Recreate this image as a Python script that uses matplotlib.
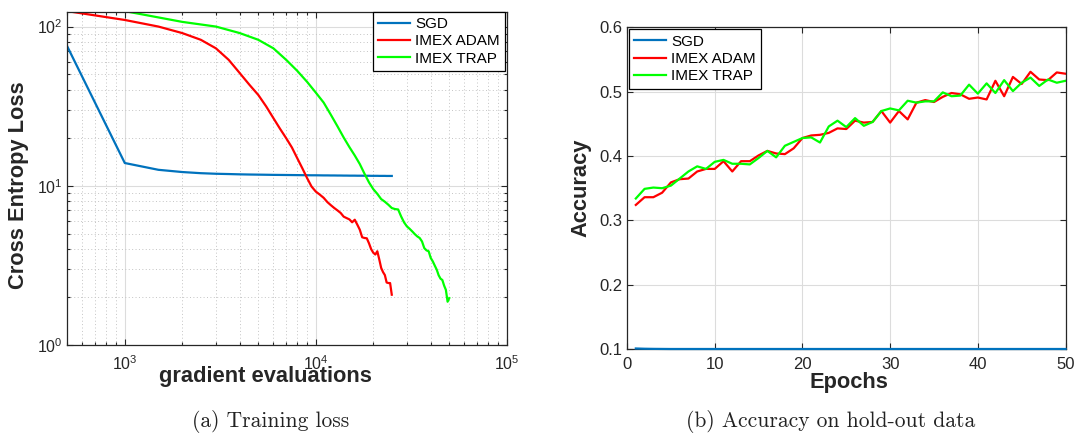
import numpy as np
import matplotlib
matplotlib.use("Agg")
import matplotlib.pyplot as plt

plt.rcParams['font.family'] = ['Liberation Sans', 'DejaVu Sans']
plt.rcParams['mathtext.fontset'] = 'custom'
plt.rcParams['mathtext.rm'] = 'Liberation Sans'
plt.rcParams['mathtext.it'] = 'Liberation Sans:italic'
plt.rcParams['mathtext.bf'] = 'Liberation Sans:bold'

# ---------------- data ----------------
series_names = ["SGD", "IMEX ADAM", "IMEX TRAP"]

evals_500 = np.arange(500, 25001, 500)      # gradient evaluations (SGD, IMEX ADAM)
evals_1000 = np.arange(1000, 50001, 1000)   # gradient evaluations (IMEX TRAP)

sgd_loss = [75.0, 13.9, 12.6, 12.2, 12.0, 11.9, 11.85, 11.8, 11.77, 11.75,
            11.73, 11.71, 11.7, 11.69, 11.68, 11.67, 11.66, 11.65, 11.64, 11.64,
            11.63, 11.62, 11.62, 11.61, 11.61, 11.6, 11.6, 11.59, 11.59, 11.58,
            11.58, 11.58, 11.57, 11.57, 11.57, 11.56, 11.56, 11.56, 11.55, 11.55,
            11.55, 11.55, 11.54, 11.54, 11.54, 11.54, 11.53, 11.53, 11.53, 11.53]

adam_loss = [125, 110, 100, 91, 82.6, 73, 61.8, 51, 43, 37.2,
             31.5, 26.6, 22.8, 19.9, 17.4, 14.9, 12.9, 11.2, 9.9, 9.2,
             8.8, 8.4, 7.9, 7.55, 7.25, 7.0, 6.75, 6.4, 6.27, 6.15,
             5.9, 6.12, 5.7, 5.3, 4.75, 4.7, 4.68, 4.35, 4.0, 3.8,
             3.7, 3.88, 3.45, 3.05, 2.87, 2.75, 2.47, 2.45, 2.45, 2.07]

trap_loss = [125, 107, 100, 91, 82.6, 73, 61.8, 52.7, 45, 38.5,
             33.3, 27.9, 23.6, 20.1, 17.5, 15.5, 13.7, 11.9, 10.5, 9.53,
             8.9, 8.25, 7.94, 7.6, 7.25, 7.14, 7.1, 6.41, 5.89, 5.56,
             5.37, 5.17, 4.97, 4.81, 4.70, 4.47, 4.06, 3.93, 3.88, 3.52,
             3.35, 3.15, 2.97, 2.74, 2.61, 2.56, 2.36, 2.22, 1.87, 1.97]

epochs = np.arange(1, 51)

sgd_acc = [0.1008, 0.1004, 0.1002, 0.1001, 0.1, 0.1, 0.1, 0.1, 0.1, 0.1,
           0.1, 0.1, 0.1, 0.1, 0.1, 0.1, 0.1, 0.1, 0.1, 0.1,
           0.1, 0.1, 0.1, 0.1, 0.1, 0.1, 0.1, 0.1, 0.1, 0.1,
           0.1, 0.1, 0.1, 0.1, 0.1, 0.1, 0.1, 0.1, 0.1, 0.1,
           0.1, 0.1, 0.1, 0.1, 0.1, 0.1, 0.1, 0.1, 0.1, 0.1]

adam_acc = [0.324, 0.336, 0.336, 0.343, 0.359, 0.364, 0.365, 0.376, 0.380, 0.380,
            0.392, 0.376, 0.392, 0.392, 0.401, 0.408, 0.404, 0.403, 0.412, 0.428,
            0.432, 0.433, 0.436, 0.443, 0.442, 0.455, 0.452, 0.453, 0.470, 0.452,
            0.470, 0.457, 0.483, 0.487, 0.484, 0.492, 0.498, 0.496, 0.489, 0.491,
            0.488, 0.517, 0.493, 0.523, 0.512, 0.531, 0.519, 0.518, 0.530, 0.528]

trap_acc = [0.334, 0.349, 0.351, 0.350, 0.354, 0.365, 0.376, 0.384, 0.380, 0.391,
            0.394, 0.388, 0.388, 0.387, 0.397, 0.408, 0.398, 0.416, 0.422, 0.428,
            0.429, 0.421, 0.446, 0.455, 0.445, 0.459, 0.447, 0.453, 0.470, 0.474,
            0.471, 0.486, 0.483, 0.485, 0.485, 0.499, 0.493, 0.494, 0.511, 0.497,
            0.513, 0.498, 0.518, 0.501, 0.514, 0.522, 0.509, 0.519, 0.514, 0.517]

captions = ["(a) Training loss", "(b) Accuracy on hold-out data"]

# ---------------- style ----------------
C_SGD = '#0072BD'
C_ADAM = '#FF0000'
C_TRAP = '#00FF00'
AX_COL = '#262626'
LW = 1.6

fig = plt.figure(figsize=(10.75, 4.33), dpi=100)
ax1 = fig.add_axes([0.0626, 0.2032, 0.4088, 0.7698])
ax2 = fig.add_axes([0.5833, 0.1940, 0.4079, 0.7427])

def style_axes(ax):
    for s in ax.spines.values():
        s.set_color(AX_COL)
        s.set_linewidth(0.9)
    ax.tick_params(which='both', direction='in', top=True, right=True,
                   colors=AX_COL, labelsize=11.5, width=0.8)
    ax.tick_params(which='major', length=4.5)
    ax.tick_params(which='minor', length=2.5)
    ax.set_axisbelow(True)

# ---- left: training loss ----
ax1.plot(evals_500, sgd_loss, color=C_SGD, lw=LW, label=series_names[0])
ax1.plot(evals_500, adam_loss, color=C_ADAM, lw=LW, label=series_names[1])
ax1.plot(evals_1000, trap_loss, color=C_TRAP, lw=LW, label=series_names[2])
ax1.set_xscale('log')
ax1.set_yscale('log')
ax1.set_xlim(500, 1e5)
ax1.set_ylim(1, 124)
style_axes(ax1)
ax1.tick_params(axis='x', which='major', pad=7)
ax1.grid(which='major', color='#dcdcdc', lw=0.8, ls='-')
ax1.grid(which='minor', color='#c4c4c4', lw=0.7, ls=(0, (1, 2.5)))
ax1.set_xlabel("gradient evaluations", fontsize=15.75, fontweight='bold', color=AX_COL)
ax1.set_ylabel("Cross Entropy Loss", fontsize=15.75, fontweight='bold', color=AX_COL)
ax1.xaxis.set_label_coords(0.452, -0.093)
ax1.xaxis.label.set_verticalalignment('center')
ax1.yaxis.set_label_coords(-0.112, 0.48)
ax1.yaxis.label.set_verticalalignment('center')
leg1 = ax1.legend(loc='upper right', bbox_to_anchor=(1 - 1.7 / 439.4, 1.0),
                  borderaxespad=0, fontsize=11, fancybox=False, framealpha=1,
                  edgecolor='#000000', handlelength=2.1, handletextpad=0.3,
                  labelspacing=0.22, borderpad=0.35)
leg1.get_frame().set_linewidth(0.9)

# ---- right: accuracy ----
ax2.plot(epochs, sgd_acc, color=C_SGD, lw=LW, label=series_names[0], clip_on=False, zorder=3)
ax2.plot(epochs, adam_acc, color=C_ADAM, lw=LW, label=series_names[1])
ax2.plot(epochs, trap_acc, color=C_TRAP, lw=LW, label=series_names[2])
ax2.set_xlim(0, 50)
ax2.set_ylim(0.1, 0.6)
ax2.set_xticks([0, 10, 20, 30, 40, 50])
ax2.set_yticks([0.1, 0.2, 0.3, 0.4, 0.5, 0.6])
style_axes(ax2)
ax2.tick_params(labelsize=12)
ax2.tick_params(axis='x', pad=6)
ax2.grid(which='major', color='#dcdcdc', lw=0.8, ls='-')
ax2.set_xlabel("Epochs", fontsize=15.75, fontweight='bold', color=AX_COL)
ax2.set_ylabel("Accuracy", fontsize=15.75, fontweight='bold', color=AX_COL)
ax2.xaxis.set_label_coords(0.506, -0.103)
ax2.xaxis.label.set_verticalalignment('center')
ax2.yaxis.set_label_coords(-0.105, 0.5)
ax2.yaxis.label.set_verticalalignment('center')
leg2 = ax2.legend(loc='upper left', bbox_to_anchor=(2 / 438.5, 1 - 2 / 321.6),
                  borderaxespad=0, fontsize=11, fancybox=False, framealpha=1,
                  edgecolor='#000000', handlelength=2.1, handletextpad=0.3,
                  labelspacing=0.22, borderpad=0.35)
leg2.get_frame().set_linewidth(0.9)

# ---- captions ----
fig.text(0.252, 0.027, captions[0], family='cmr10', fontsize=15.5,
         ha='center', va='center', color='#222222')
fig.text(0.773, 0.027, captions[1], family='cmr10', fontsize=15.5,
         ha='center', va='center', color='#222222')

fig.savefig("out.png", dpi=100)
